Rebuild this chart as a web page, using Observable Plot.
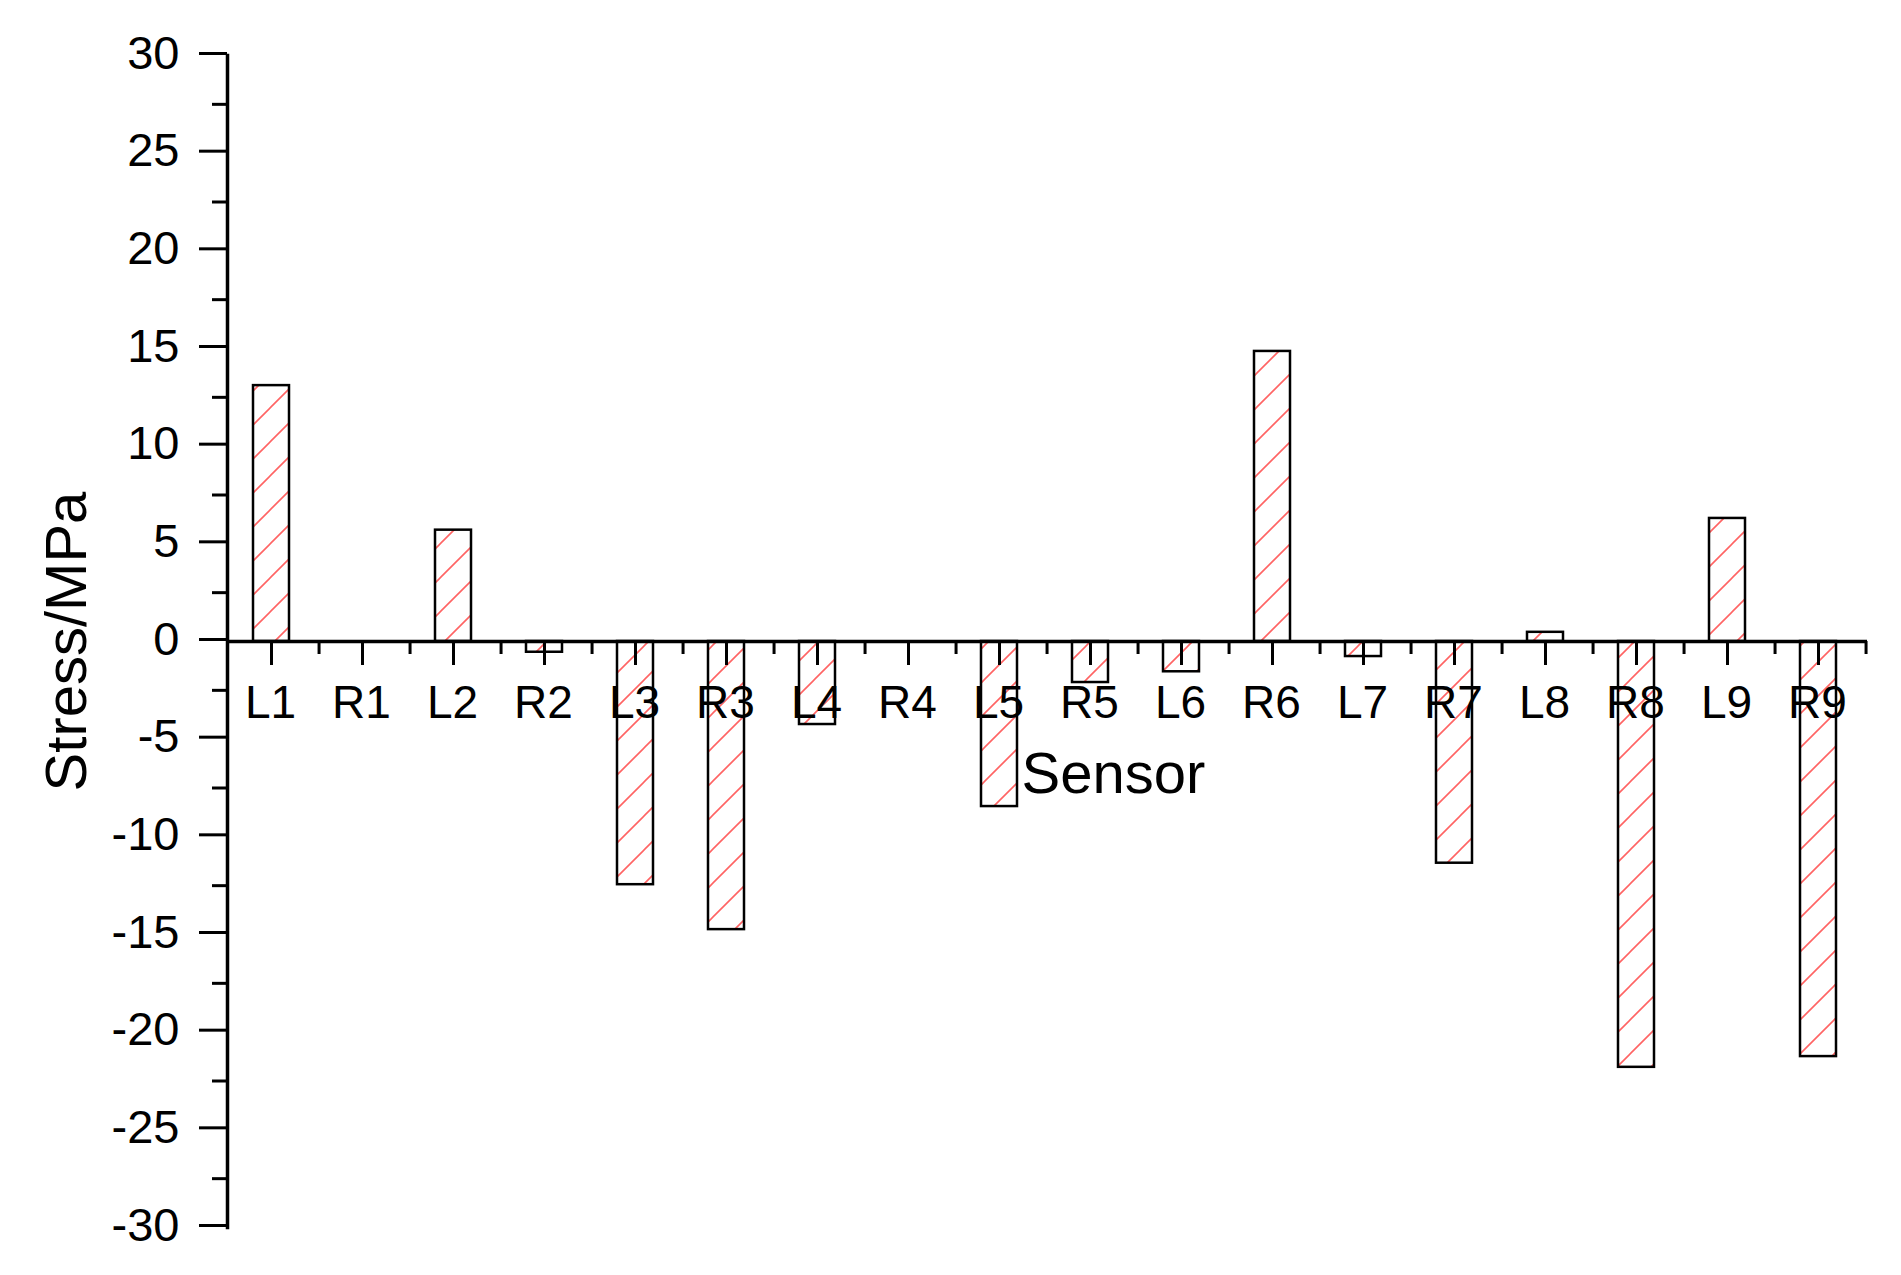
<!DOCTYPE html>
<html>
<head>
<meta charset="utf-8">
<script src="https://cdn.jsdelivr.net/npm/d3@7"></script>
<script src="https://cdn.jsdelivr.net/npm/@observablehq/plot@0.6"></script>
<style>
  html, body { margin: 0; padding: 0; background: #fff; }
  #chart svg { display: block; }
</style>
</head>
<body>
<div id="chart"></div>
<script>
// ---- data ----
const sensors = ["L1","R1","L2","R2","L3","R3","L4","R4","L5","R5","L6","R6","L7","R7","L8","R8","L9","R9"];
const stress  = [13.1, 0, 5.7, -0.55, -12.45, -14.75, -4.25, 0, -8.45, -2.1, -1.55, 14.85, -0.77, -11.35, 0.47, -21.8, 6.3, -21.25];
const yMajorTicks = [-30, -25, -20, -15, -10, -5, 0, 5, 10, 15, 20, 25, 30];
const yMinorTicks = [-27.5, -22.5, -17.5, -12.5, -7.5, -2.5, 2.5, 7.5, 12.5, 17.5, 22.5, 27.5];
const xLabel = "Sensor";
const yLabel = "Stress/MPa";

const data = sensors.map((s, i) => ({sensor: s, stress: stress[i]}));

// ---- layout ----
const W = 1901, H = 1275;
const mL = 227, mR = 34, mT = 55, mB = 48;
const step = (W - mL - mR) / sensors.length;
const font = "'Liberation Sans', Arial, sans-serif";

const chart = Plot.plot({
  width: W,
  height: H,
  marginLeft: mL,
  marginRight: mR,
  marginTop: mT,
  marginBottom: mB,
  style: {fontFamily: font, background: "#fff", color: "#000", overflow: "visible"},
  x: {domain: sensors, paddingInner: 0.6, paddingOuter: 0.3, axis: null},
  y: {domain: [-30, 30], axis: null},
  marks: [
    Plot.barY(data, {x: "sensor", y: "stress", fill: "url(#hatch)", stroke: "#000", strokeWidth: 2.5, dx: -2}),
    // x axis line at zero
    Plot.ruleY([0], {stroke: "#000", strokeWidth: 3.5}),
    // y axis line
    Plot.frame({anchor: "left", stroke: "#000", strokeWidth: 3.5}),
    // y ticks
    Plot.axisY(yMajorTicks, {tickSize: 28, tickPadding: 20, strokeWidth: 3, fontSize: 47, dy: -2,
      tickFormat: d => String(d), label: null}),
    Plot.axisY(yMinorTicks, {tickSize: 15, strokeWidth: 3, tickFormat: () => "", label: null}),
    // x ticks (major at sensors, minor between)
    Plot.ruleX(sensors, {x: d => d, y1: () => 0, y2: () => 0, insetBottom: -24, dx: -2, stroke: "#000", strokeWidth: 3}),
    Plot.ruleX(sensors, {x: d => d, y1: () => 0, y2: () => 0, insetBottom: -13, dx: step / 2, stroke: "#000", strokeWidth: 3}),
    // x tick labels
    Plot.text(sensors, {x: d => d, y: () => 0, text: d => d, dy: 76, dx: -3, lineAnchor: "bottom", fontSize: 46, fill: "#000"}),
    // axis titles
    Plot.text([yLabel], {frameAnchor: "left", text: d => d, rotate: -90, textAnchor: "middle", dx: -160, fontSize: 58, fill: "#000"}),
    Plot.text([xLabel], {frameAnchor: "middle", text: d => d, textAnchor: "middle", dx: 66, dy: 151, lineAnchor: "bottom", fontSize: 58, fill: "#000"})
  ]
});

// hatch pattern definition
const defs = d3.select(chart).insert("defs", ":first-child");
const pat = defs.append("pattern")
  .attr("id", "hatch")
  .attr("patternUnits", "userSpaceOnUse")
  .attr("width", 34)
  .attr("height", 34);
pat.append("rect").attr("width", 34).attr("height", 34).attr("fill", "#fff");
pat.append("path")
  .attr("d", "M0,34 L34,0 M-8.5,8.5 L8.5,-8.5 M25.5,42.5 L42.5,25.5")
  .attr("stroke", "#ff6464")
  .attr("stroke-width", 1.6);

document.getElementById("chart").appendChild(chart);
</script>
</body>
</html>
